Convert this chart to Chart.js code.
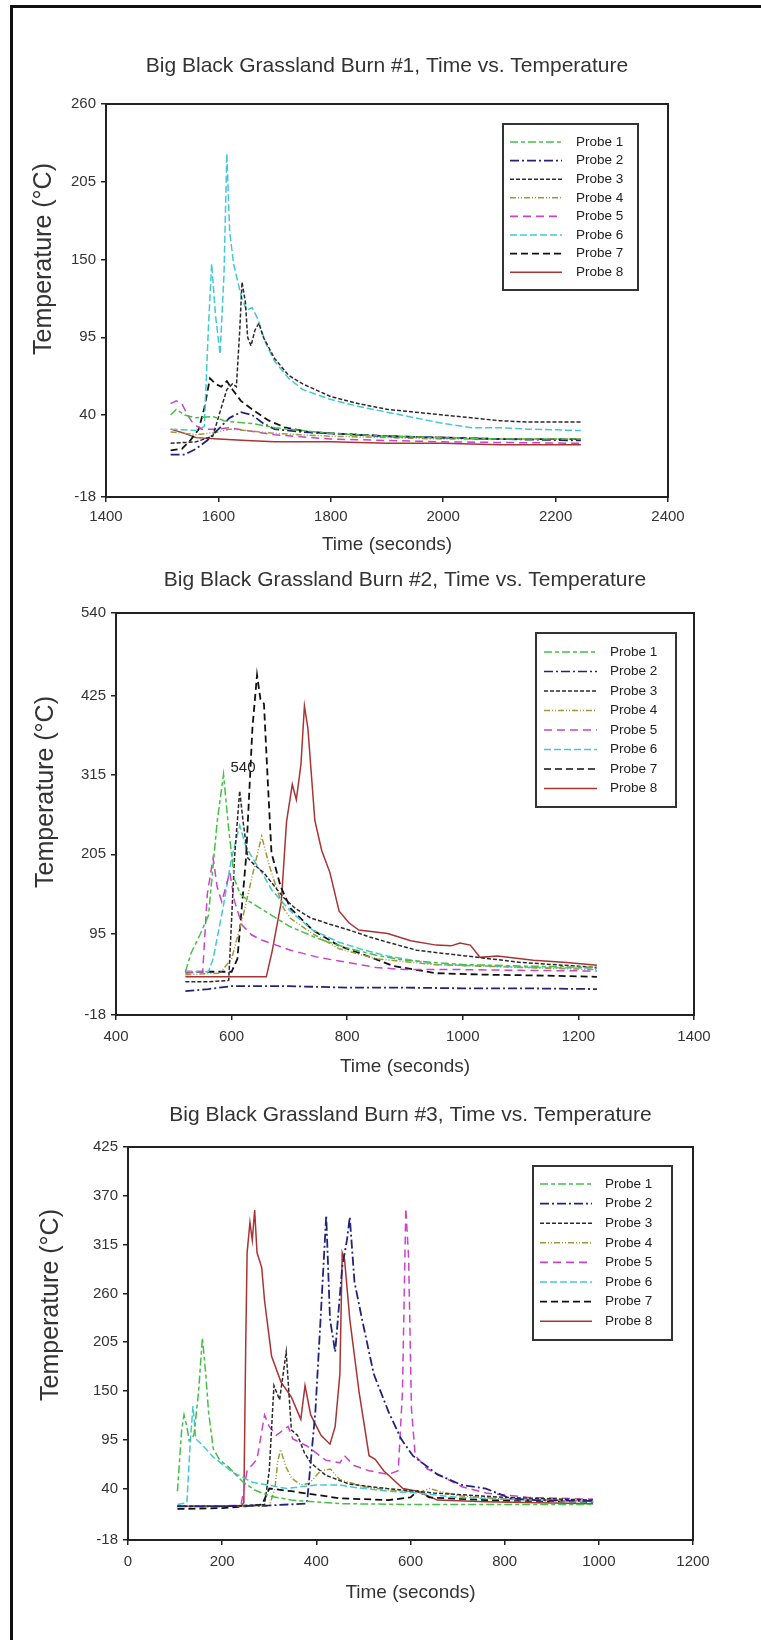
<!DOCTYPE html>
<html>
<head>
<meta charset="utf-8">
<script src="https://cdn.jsdelivr.net/npm/chart.js@4.4.1/dist/chart.umd.min.js"></script>
<style>
  html, body { margin: 0; padding: 0; background: #fff; }
  body { width: 761px; height: 1640px; position: relative; overflow: hidden; }
  #frame { position: absolute; left: 10px; top: 5px; right: -5px; bottom: -5px;
           border-left: 3px solid #111; border-top: 3px solid #111; }
  .box { position: absolute; left: 0; width: 761px; }
  canvas { display: block; }
</style>
</head>
<body>
<div id="frame"></div>
<div class="box" style="top:0;height:565px"><canvas id="burn1" width="761" height="565"></canvas></div>
<div class="box" style="top:565px;height:515px"><canvas id="burn2" width="761" height="515"></canvas></div>
<div class="box" style="top:1080px;height:560px"><canvas id="burn3" width="761" height="560"></canvas></div>

<script>
// probe names / styles
const probeNames = ['Probe 1', 'Probe 2', 'Probe 3', 'Probe 4', 'Probe 5', 'Probe 6', 'Probe 7', 'Probe 8'];
const probeColors = ['#45c045', '#23237a', '#2e2a2a', '#9c9a3c', '#c844c8', '#45c8d2', '#111111', '#a83434'];
const probeDashes = [[8, 3, 4, 3], [9, 3, 2, 3], [4, 2], [6, 2, 1, 2, 1, 2], [8, 5], [7, 3], [7, 4], []];

// burn #1  [time s, temperature C]
const burn1Probe1 = [[1515,40],[1525,44],[1540,40],[1560,38],[1590,39],[1610,36],[1630,35],[1660,34],[1700,31],[1750,29],[1800,27],[1900,25],[2000,24],[2100,23],[2245,23]];
const burn1Probe2 = [[1515,12],[1540,12],[1560,16],[1580,22],[1600,30],[1620,38],[1640,42],[1660,40],[1680,34],[1700,30],[1750,28],[1800,27],[1850,26],[1900,25],[2000,24],[2100,23],[2245,22]];
const burn1Probe3 = [[1515,20],[1560,21],[1590,25],[1605,45],[1615,58],[1625,62],[1632,60],[1638,100],[1642,134],[1648,120],[1652,95],[1658,89],[1665,100],[1672,105],[1680,95],[1700,80],[1725,68],[1750,62],[1800,53],[1850,48],[1900,44],[1950,42],[2000,40],[2050,38],[2100,36],[2150,35],[2245,35]];
const burn1Probe4 = [[1515,28],[1540,27],[1560,26],[1600,28],[1620,30],[1650,29],[1700,27],[1800,25],[1900,24],[2000,23],[2245,23]];
const burn1Probe5 = [[1515,48],[1525,50],[1535,48],[1545,40],[1555,34],[1570,30],[1600,30],[1620,31],[1650,29],[1700,26],[1800,23],[1900,22],[2000,21],[2245,20]];
const burn1Probe6 = [[1515,30],[1560,29],[1575,32],[1582,100],[1588,147],[1595,110],[1603,83],[1610,140],[1615,225],[1620,170],[1627,147],[1640,125],[1650,114],[1660,116],[1670,108],[1685,90],[1700,78],[1725,66],[1750,58],[1800,51],[1850,46],[1900,42],[1950,38],[2000,34],[2050,31],[2100,31],[2150,30],[2245,29]];
const burn1Probe7 = [[1515,15],[1535,16],[1550,22],[1565,30],[1575,45],[1585,66],[1595,62],[1605,60],[1615,64],[1625,58],[1640,50],[1660,44],[1690,36],[1720,31],[1760,28],[1800,27],[1900,25],[2000,24],[2100,23],[2245,23]];
const burn1Probe8 = [[1515,30],[1540,27],[1560,24],[1600,23],[1650,22],[1700,21],[1800,21],[1900,20],[2000,20],[2100,19],[2245,19]];

// burn #2
const burn2Probe1 = [[520,42],[530,68],[545,93],[560,120],[575,250],[586,316],[595,240],[605,170],[615,150],[630,140],[650,130],[680,115],[700,105],[750,88],[800,75],[850,65],[900,58],[1000,52],[1100,50],[1232,48]];
const burn2Probe2 = [[520,15],[560,18],[600,22],[700,22],[800,20],[900,20],[1000,19],[1100,19],[1232,18]];
const burn2Probe3 = [[520,28],[560,28],[595,30],[605,200],[614,293],[620,250],[628,200],[640,190],[655,180],[670,165],[690,145],[710,130],[736,117],[770,108],[803,100],[840,90],[870,83],[920,72],[960,68],[1005,64],[1100,55],[1232,48]];
const burn2Probe4 = [[520,38],[580,40],[600,60],[620,120],[640,190],[652,230],[665,190],[677,160],[690,130],[702,116],[740,95],[786,74],[850,60],[950,52],[1100,48],[1232,45]];
const burn2Probe5 = [[520,40],[550,42],[558,150],[568,200],[575,160],[583,139],[590,160],[597,180],[605,140],[618,107],[635,93],[652,86],[702,72],[750,62],[800,55],[850,48],[900,45],[1000,45],[1100,44],[1232,43]];
const burn2Probe6 = [[520,42],[560,42],[568,60],[585,130],[600,200],[614,245],[625,215],[640,195],[652,180],[670,155],[702,126],[740,100],[786,83],[830,72],[870,64],[954,52],[1038,50],[1120,48],[1232,47]];
const burn2Probe7 = [[520,42],[600,42],[610,60],[625,200],[636,380],[644,454],[650,420],[656,414],[663,300],[669,207],[685,160],[702,130],[740,100],[786,78],[828,66],[880,50],[954,40],[1038,38],[1120,37],[1232,35]];
const burn2Probe8 = [[520,35],[660,35],[670,70],[686,139],[695,250],[705,302],[712,281],[720,330],[726,411],[732,380],[744,252],[756,210],[770,180],[786,126],[803,110],[820,100],[870,95],[910,85],[954,79],[980,78],[995,82],[1013,79],[1030,62],[1060,64],[1122,58],[1180,55],[1232,51]];

// burn #3
const burn3Probe1 = [[105,37],[114,106],[119,123],[125,110],[130,94],[140,100],[150,150],[158,210],[165,170],[171,127],[181,85],[195,72],[212,65],[243,48],[270,38],[305,31],[347,27],[450,23],[600,22],[800,22],[988,22]];
const burn3Probe2 = [[105,20],[200,20],[300,21],[380,23],[398,127],[409,231],[421,348],[429,231],[440,194],[455,290],[465,320],[471,346],[481,273],[497,231],[522,169],[553,127],[580,96],[605,77],[657,56],[709,44],[760,40],[812,29],[864,27],[988,26]];
const burn3Probe3 = [[105,20],[200,20],[290,22],[300,60],[310,156],[322,140],[336,194],[347,106],[360,100],[375,80],[388,69],[420,55],[470,45],[550,40],[650,35],[800,30],[988,27]];
const burn3Probe4 = [[105,20],[300,20],[312,40],[318,70],[324,84],[335,65],[347,52],[367,44],[385,46],[409,60],[430,62],[450,50],[500,42],[560,38],[620,36],[640,40],[700,32],[800,28],[988,26]];
const burn3Probe5 = [[105,20],[240,21],[253,60],[274,73],[290,123],[300,110],[315,100],[340,110],[350,96],[380,88],[420,72],[450,69],[460,77],[480,66],[512,60],[553,56],[574,60],[583,150],[590,356],[596,300],[602,130],[610,77],[636,62],[680,50],[709,42],[760,35],[850,30],[988,28]];
const burn3Probe6 = [[105,22],[125,24],[132,90],[138,133],[144,96],[160,88],[180,76],[223,58],[265,47],[337,40],[398,44],[450,44],[470,42],[553,37],[615,35],[700,30],[850,27],[988,25]];
const burn3Probe7 = [[105,17],[200,18],[250,20],[285,22],[300,40],[347,37],[450,29],[553,27],[600,30],[615,37],[640,30],[760,27],[988,25]];
const burn3Probe8 = [[105,20],[240,20],[246,24],[250,200],[253,306],[259,340],[264,320],[269,354],[274,306],[284,289],[290,252],[305,189],[325,160],[347,143],[367,118],[376,156],[388,123],[410,100],[429,90],[440,110],[450,169],[455,306],[460,298],[471,231],[491,148],[512,77],[525,73],[543,60],[584,40],[615,37],[657,27],[760,25],[988,23]];

// axis ticks
const burn1YTicks = [-18, 40, 95, 150, 205, 260];
const burn2YTicks = [-18, 95, 205, 315, 425, 540];
const burn3YTicks = [-18, 40, 95, 150, 205, 260, 315, 370, 425];

const FONT = '"Liberation Sans", Arial, sans-serif';

// plot frame (top and right edges too)
const framePlugin = {
  id: 'frame',
  afterDatasetsDraw(chart) {
    const a = chart.chartArea, ctx = chart.ctx;
    ctx.save();
    ctx.strokeStyle = '#222';
    ctx.lineWidth = 2;
    ctx.strokeRect(a.left, a.top, a.right - a.left, a.bottom - a.top);
    ctx.restore();
  }
};

// boxed legend inside the plot + rotated y title + stray text
const extrasPlugin = {
  id: 'extras',
  afterDraw(chart, args, opts) {
    const ctx = chart.ctx;
    const L = opts.legend;
    ctx.save();
    ctx.fillStyle = '#fff';
    ctx.fillRect(L.x, L.y, L.w, L.h);
    ctx.strokeStyle = '#333';
    ctx.lineWidth = 2;
    ctx.strokeRect(L.x, L.y, L.w, L.h);
    chart.data.datasets.forEach((ds, i) => {
      const y = L.firstY + i * L.step;
      ctx.beginPath();
      ctx.setLineDash(ds.borderDash);
      ctx.strokeStyle = ds.borderColor;
      ctx.lineWidth = 1.6;
      ctx.moveTo(L.x1, y);
      ctx.lineTo(L.x2, y);
      ctx.stroke();
      ctx.setLineDash([]);
      ctx.fillStyle = '#222';
      ctx.font = '13.5px ' + FONT;
      ctx.textAlign = 'left';
      ctx.textBaseline = 'middle';
      ctx.fillText(ds.label, L.textX, y);
    });
    // y title
    ctx.translate(opts.yTitle.x, opts.yTitle.y);
    ctx.rotate(-Math.PI / 2);
    ctx.fillStyle = '#333';
    ctx.font = '25px ' + FONT;
    ctx.textAlign = 'center';
    ctx.textBaseline = 'middle';
    ctx.fillText('Temperature (°C)', 0, 0);
    ctx.restore();
    if (opts.note) {
      ctx.save();
      ctx.fillStyle = '#222';
      ctx.font = '15px ' + FONT;
      ctx.textAlign = 'center';
      ctx.textBaseline = 'middle';
      ctx.fillText(opts.note.text, opts.note.x, opts.note.y);
      ctx.restore();
    }
  }
};

function makeChart(id, cfg) {
  const ctx = document.getElementById(id).getContext('2d');
  return new Chart(ctx, {
    type: 'line',
    data: {
      datasets: cfg.series.map((pts, i) => ({
        label: probeNames[i],
        data: pts.map(p => ({ x: p[0], y: p[1] })),
        borderColor: probeColors[i],
        borderDash: probeDashes[i],
        borderWidth: (i === 6 || i === 1) ? 1.8 : 1.5,
        pointRadius: 0,
        fill: false,
        tension: 0
      }))
    },
    options: {
      responsive: false,
      animation: false,
      events: [],
      layout: { padding: { left: 0, right: cfg.padRight, top: 0, bottom: 0 } },
      plugins: {
        legend: { display: false },
        tooltip: { enabled: false },
        title: {
          display: true,
          fullSize: false,
          text: cfg.title,
          color: '#333',
          font: { family: FONT, size: 21, weight: 'normal' },
          padding: { top: cfg.titleTop, bottom: cfg.titleBottom }
        },
        extras: { legend: cfg.legend, yTitle: cfg.yTitle, note: cfg.note }
      },
      scales: {
        x: {
          type: 'linear',
          min: cfg.xMin,
          max: cfg.xMax,
          border: { display: true, color: '#222', width: 2 },
          grid: { display: true, drawOnChartArea: false, drawTicks: true, tickLength: 5, color: '#222', lineWidth: 1.5 },
          ticks: { stepSize: 200, padding: cfg.xTickPad, color: '#333', font: { family: FONT, size: 15 }, callback: v => String(v) },
          title: { display: true, text: 'Time (seconds)', color: '#333', font: { family: FONT, size: 19 }, padding: { top: 0, bottom: cfg.xTitleBottom } },
          afterFit: s => { s.height = cfg.xHeight; }
        },
        y: {
          type: 'linear',
          min: -18,
          max: cfg.yTicks[cfg.yTicks.length - 1],
          border: { display: true, color: '#222', width: 2 },
          grid: { display: true, drawOnChartArea: false, drawTicks: true, tickLength: 5, color: '#222', lineWidth: 1.5 },
          ticks: { padding: 5, color: '#333', font: { family: FONT, size: 15 }, callback: v => String(v) },
          afterBuildTicks: s => { s.ticks = cfg.yTicks.map(v => ({ value: v })); },
          afterFit: s => { s.width = cfg.yWidth; }
        }
      }
    },
    plugins: [framePlugin, extrasPlugin]
  });
}

makeChart('burn1', {
  title: 'Big Black Grassland Burn #1, Time vs. Temperature',
  series: [burn1Probe1, burn1Probe2, burn1Probe3, burn1Probe4, burn1Probe5, burn1Probe6, burn1Probe7, burn1Probe8],
  xMin: 1400, xMax: 2400, yTicks: burn1YTicks,
  titleTop: 53.4, titleBottom: 25.4,
  yWidth: 106, padRight: 93,
  xHeight: 68, xTickPad: 6, xTitleBottom: 8.6,
  legend: { x: 503, y: 124, w: 135, h: 166, firstY: 142, step: 18.6, x1: 510, x2: 562, textX: 576 },
  yTitle: { x: 44, y: 259 }
});

makeChart('burn2', {
  title: 'Big Black Grassland Burn #2, Time vs. Temperature',
  series: [burn2Probe1, burn2Probe2, burn2Probe3, burn2Probe4, burn2Probe5, burn2Probe6, burn2Probe7, burn2Probe8],
  xMin: 400, xMax: 1400, yTicks: burn2YTicks,
  titleTop: 2.4, titleBottom: 20.4,
  yWidth: 116, padRight: 67,
  xHeight: 65, xTickPad: 8, xTitleBottom: 2.1,
  legend: { x: 536, y: 68, w: 140, h: 174, firstY: 87, step: 19.5, x1: 544, x2: 597, textX: 610 },
  yTitle: { x: 46, y: 227 },
  note: { text: '540', x: 243, y: 203 }
});

makeChart('burn3', {
  title: 'Big Black Grassland Burn #3, Time vs. Temperature',
  series: [burn3Probe1, burn3Probe2, burn3Probe3, burn3Probe4, burn3Probe5, burn3Probe6, burn3Probe7, burn3Probe8],
  xMin: 0, xMax: 1200, yTicks: burn3YTicks,
  titleTop: 22.9, titleBottom: 18.9,
  yWidth: 128, padRight: 68,
  xHeight: 100, xTickPad: 8, xTitleBottom: 35.6,
  legend: { x: 533, y: 86, w: 139, h: 174, firstY: 104, step: 19.6, x1: 540, x2: 592, textX: 605 },
  yTitle: { x: 51, y: 225 }
});
</script>
</body>
</html>
